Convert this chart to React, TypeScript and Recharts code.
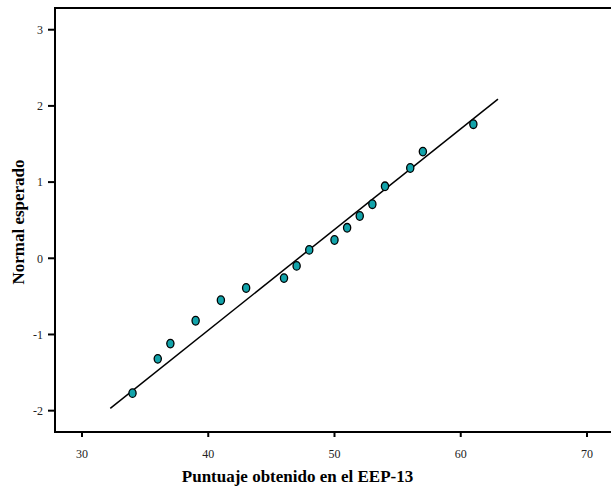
import React from 'react';
import { ScatterChart, Scatter, XAxis, YAxis, ReferenceArea } from 'recharts';

// Observed scores (x) and expected normal values (y)
const scores = [34, 36, 37, 39, 41, 43, 46, 47, 48, 50, 51, 52, 53, 54, 56, 57, 61];
const expectedNormal = [-1.77, -1.32, -1.12, -0.82, -0.55, -0.39, -0.26, -0.1, 0.11, 0.24, 0.4, 0.555, 0.71, 0.945, 1.185, 1.4, 1.76];

// Reference line endpoints
const lineX = [32.24, 62.95];
const lineY = [-1.97, 2.09];

const xTicks = [30, 40, 50, 60, 70];
const yTicks = [-2, -1, 0, 1, 2, 3];
const xDomain = [27.86, 74.2];
const yDomain = [-2.28, 3.285];

const points = scores.map((x, i) => ({ x, y: expectedNormal[i] }));
const lineData = lineX.map((x, i) => ({ x, y: lineY[i] }));

const FONT = '"Liberation Serif", "Times New Roman", serif';

const Dot = (props: any) => {
  const { cx, cy } = props;
  if (cx == null || cy == null) return null;
  return <ellipse cx={cx} cy={cy} rx={3.6} ry={4.3} fill="#12A3AA" stroke="#000" strokeWidth={1.3} />;
};

const NoShape = () => null;

export default function App() {
  return (
    <div style={{ position: 'absolute', left: 0, top: 0, width: 611, height: 491, overflow: 'hidden', background: '#fff' }}>
      <ScatterChart width={640} height={491} margin={{ top: 8, right: 0, bottom: 0, left: 0 }}>
        <XAxis
          type="number"
          dataKey="x"
          domain={xDomain}
          ticks={xTicks}
          allowDataOverflow
          height={59}
          axisLine={{ stroke: '#000', strokeWidth: 2 }}
          tickLine={{ stroke: '#000', strokeWidth: 2 }}
          tickSize={5}
          tickMargin={12}
          tick={{ fill: '#222', fontSize: 12, fontFamily: FONT }}
          label={() => (
            <text x={297.5} y={482} textAnchor="middle" fontFamily={FONT} fontSize={17} fontWeight="bold" fill="#000">
              Puntuaje obtenido en el EEP-13
            </text>
          )}
        />
        <YAxis
          type="number"
          dataKey="y"
          domain={yDomain}
          ticks={yTicks}
          allowDataOverflow
          width={55}
          axisLine={{ stroke: '#000', strokeWidth: 2 }}
          tickLine={{ stroke: '#000', strokeWidth: 2 }}
          tickSize={7}
          tickMargin={5}
          tick={{ fill: '#222', fontSize: 12, fontFamily: FONT }}
          label={() => (
            <text x={24} y={222} transform="rotate(-90 24 222)" textAnchor="middle" fontFamily={FONT} fontSize={17} fontWeight="bold" fill="#000">
              Normal esperado
            </text>
          )}
        />
        <ReferenceArea
          x1={xDomain[0]}
          x2={xDomain[1]}
          y1={yDomain[0]}
          y2={yDomain[1]}
          fill="none"
          stroke="#000"
          strokeWidth={2}
          ifOverflow="visible"
        />
        <Scatter
          data={lineData}
          line={{ stroke: '#000', strokeWidth: 1.5 }}
          shape={NoShape}
          isAnimationActive={false}
        />
        <Scatter data={points} shape={Dot} isAnimationActive={false} />
      </ScatterChart>
    </div>
  );
}
